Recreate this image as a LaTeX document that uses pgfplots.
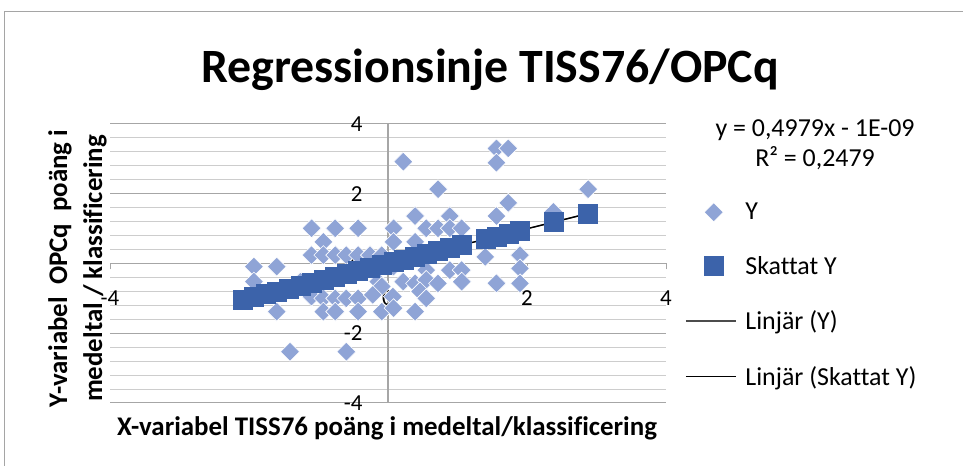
\documentclass[border=0pt]{standalone}
\usepackage{pgfplots}
\pgfplotsset{compat=1.18}
\usepackage{fontspec}
\setmainfont{Carlito}[Ligatures=NoCommon]
\definecolor{ylight}{RGB}{143,164,214}
\definecolor{ydark}{RGB}{60,99,170}
\definecolor{gridmaj}{RGB}{166,166,166}
\definecolor{gridmin}{RGB}{205,205,205}
\definecolor{framec}{RGB}{165,165,165}
\pgfplotsset{
  markleg/.style={legend image code/.code={\path[draw=none, fill=none] (0bp,0bp) -- (50bp,0bp);
    \draw[##1, draw=none] plot[only marks] coordinates {(28bp,0bp)};}},
  lineleg/.style={legend image code/.code={\draw[##1] (0bp,0bp) -- (50bp,0bp);}},
}
\pgfplotstableread{
x y
0.22 2.92
1.56 3.30
1.73 3.30
1.56 2.89
0.72 2.13
2.88 2.13
1.73 1.74
0.39 1.36
0.89 1.36
1.56 1.36
2.38 1.48
-1.10 1.01
-0.76 1.01
-0.43 1.01
0.08 1.01
0.55 1.01
0.72 1.01
0.89 1.01
1.06 1.01
-0.93 0.62
0.08 0.62
0.39 0.62
-1.10 0.24
-0.93 0.24
-0.76 0.24
-0.60 0.24
-0.43 0.24
-0.26 0.24
-0.09 0.24
1.40 0.19
1.90 0.24
-1.93 -0.09
-1.60 -0.09
0.08 -0.09
0.55 -0.19
0.89 -0.19
1.06 -0.19
1.90 -0.14
-1.93 -0.52
-1.26 -0.52
-0.14 -0.52
0.22 -0.52
0.39 -0.57
0.55 -0.47
0.72 -0.57
1.06 -0.52
1.56 -0.57
1.90 -0.57
-0.09 -0.66
0.46 -0.80
-1.10 -0.95
-0.93 -1.00
-0.76 -1.00
-0.60 -1.00
-0.43 -1.00
-0.22 -0.90
0.07 -0.95
0.55 -1.00
-1.60 -1.38
-0.93 -1.38
-0.76 -1.38
-0.43 -1.38
-0.09 -1.38
0.08 -1.28
0.39 -1.38
-1.41 -2.53
-0.60 -2.53
}\ydata
\pgfplotstableread{
x y
-2.09 -1.041
-1.93 -0.961
-1.76 -0.876
-1.60 -0.797
-1.43 -0.712
-1.26 -0.627
-1.10 -0.548
-0.93 -0.463
-0.76 -0.378
-0.60 -0.299
-0.43 -0.214
-0.26 -0.129
-0.09 -0.045
0.08 0.040
0.22 0.110
0.39 0.194
0.55 0.274
0.72 0.358
0.89 0.443
1.06 0.528
1.40 0.697
1.56 0.777
1.73 0.861
1.90 0.946
2.38 1.185
2.88 1.434
}\sdata
\begin{document}
\begin{tikzpicture}[x=1bp,y=1bp]
\useasboundingbox (0,0) rectangle (963,466);
\draw[framec, line width=1bp] (4,0) -- (4,454) -- (963,454);
\node[font=\fontsize{48}{58}\selectfont\bfseries] at (490,396) {Regressionsinje TISS76/OPCq};
\node[font=\fontsize{27}{32}\selectfont\bfseries] at (387,38) {X-variabel TISS76 poäng i medeltal/klassificering};
\node[font=\fontsize{27}{32}\selectfont\bfseries, rotate=90, anchor=base] at (67,197.5) {Y-variabel\ \ OPCq\ \ poäng i};
\node[font=\fontsize{27}{32}\selectfont\bfseries, rotate=90, anchor=base] at (102,197.5) {medeltal / klassificering};
\node[font=\fontsize{26}{30}\selectfont] at (815,336) {y = 0,4979x - 1E-09};
\node[font=\fontsize{26}{30}\selectfont] at (815,308) {R² = 0,2479};
\begin{axis}[
  at={(110bp,63bp)}, anchor=south west,
  scale only axis, width=556bp, height=279bp,
  xmin=-4, xmax=4, ymin=-4, ymax=4,
  axis lines=middle,
  axis line style={-, draw=gridmaj, line width=1.2bp},
  hide obscured x ticks=false, hide obscured y ticks=false,
  xtick={-4,-2,0,2,4}, ytick={-4,-2,0,2,4},
  minor y tick num=4,
  ymajorgrids, yminorgrids,
  major grid style={draw=gridmaj, line width=1bp},
  minor grid style={draw=gridmin, line width=1bp},
  tick align=outside,
  major tick length=6bp, minor tick length=0bp,
  tick style={draw=gridmaj, line width=1bp},
  tick label style={font=\fontsize{23}{27}\selectfont},
  /pgf/number format/assume math mode=true,
  xticklabel style={yshift=-18bp},
  yticklabel style={xshift=-16bp},
  clip=false,
  legend cell align=left,
  legend style={at={(1.034,0.724)}, anchor=north west, draw=none, fill=none,
    font=\fontsize{26}{30}\selectfont, row sep=31bp, inner sep=0pt,
    /tikz/every odd column/.style={column sep=7bp}},
]
\addplot[only marks, mark=square*, mark size=6.7bp,
  mark options={rotate=45, fill=ylight, draw=white, line width=0.6bp}, markleg]
  table[x=x, y=y] {\ydata};
\addlegendentry{Y}
\addplot[only marks, mark=square*, mark size=9.5bp,
  mark options={fill=ydark, draw=ydark, line width=0.4bp}, markleg]
  table[x=x, y=y] {\sdata};
\addlegendentry{Skattat Y}
\addplot[no marks, draw=black!70, line width=1.3bp, lineleg]
  coordinates {(-2.09,-1.041) (2.88,1.434)};
\addlegendentry{Linjär (Y)}
\addplot[no marks, draw=black, line width=1.3bp, lineleg]
  coordinates {(-2.09,-1.041) (2.88,1.434)};
\addlegendentry{Linjär (Skattat Y)}
\end{axis}
\end{tikzpicture}
\end{document}
